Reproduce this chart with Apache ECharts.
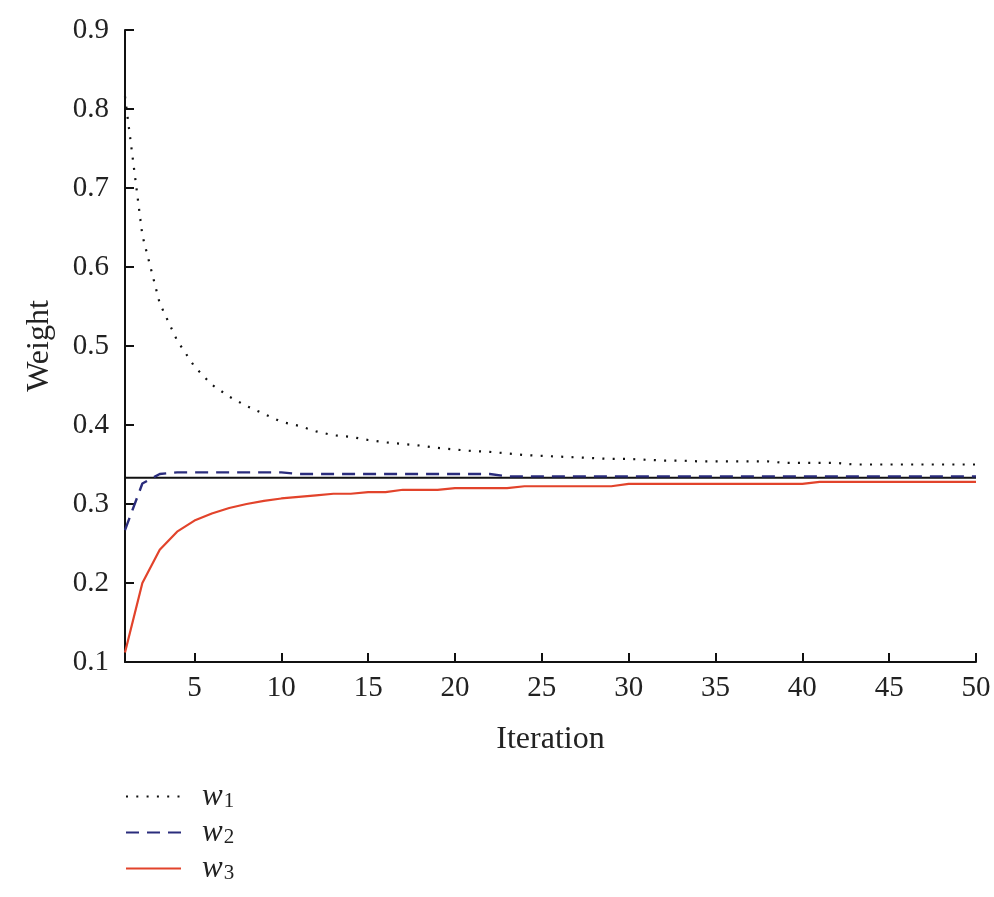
<!DOCTYPE html>
<html>
<head>
<meta charset="utf-8">
<script src="https://cdn.jsdelivr.net/npm/echarts@6/dist/echarts.min.js"></script>
<style>
  html, body { margin: 0; padding: 0; background: #fff; }
  #weightChart { width: 994px; height: 897px; }
</style>
</head>
<body>
<div id="weightChart"></div>
<script>
var iterations = [];
for (var i = 1; i <= 50; i++) iterations.push(i);

var w1 = [0.816, 0.640, 0.554, 0.507, 0.474, 0.451, 0.436, 0.424, 0.414, 0.404,
          0.399, 0.392, 0.387, 0.385, 0.381, 0.378, 0.376, 0.374, 0.371, 0.369,
          0.367, 0.366, 0.364, 0.362, 0.361, 0.360, 0.359, 0.358, 0.357, 0.357,
          0.356, 0.355, 0.355, 0.354, 0.354, 0.354, 0.354, 0.354, 0.352, 0.352,
          0.352, 0.352, 0.350, 0.350, 0.350, 0.350, 0.350, 0.350, 0.350, 0.350];

var w2 = [0.267, 0.326, 0.338, 0.340, 0.340, 0.340, 0.340, 0.340, 0.340, 0.340,
          0.338, 0.338, 0.338, 0.338, 0.338, 0.338, 0.338, 0.338, 0.338, 0.338,
          0.338, 0.338, 0.335, 0.335, 0.335, 0.335, 0.335, 0.335, 0.335, 0.335,
          0.335, 0.335, 0.335, 0.335, 0.335, 0.335, 0.335, 0.335, 0.335, 0.335,
          0.335, 0.335, 0.335, 0.335, 0.335, 0.335, 0.335, 0.335, 0.335, 0.335];

var w3 = [0.112, 0.200, 0.242, 0.265, 0.279, 0.288, 0.295, 0.300, 0.304, 0.307,
          0.309, 0.311, 0.313, 0.313, 0.315, 0.315, 0.318, 0.318, 0.318, 0.320,
          0.320, 0.320, 0.320, 0.3225, 0.3225, 0.3225, 0.3225, 0.3225, 0.3225, 0.3255,
          0.3255, 0.3255, 0.3255, 0.3255, 0.3255, 0.3255, 0.3255, 0.3255, 0.3255, 0.3255,
          0.328, 0.328, 0.328, 0.328, 0.328, 0.328, 0.328, 0.328, 0.328, 0.328];

// equal-weight reference line (1/3)
var refX = [1, 50];
var refY = [1 / 3, 1 / 3];

var xTicks = [5, 10, 15, 20, 25, 30, 35, 40, 45, 50];

function pairs(xs, ys) {
    return xs.map(function (x, k) { return [x, ys[k]]; });
}

var serif = 'Liberation Serif';
var myChart = echarts.init(document.getElementById('weightChart'));
var option = {
    animation: false,
    backgroundColor: '#fff',
    grid: { left: 125, right: 18, top: 30, bottom: 235 },
    legend: {
        orient: 'vertical',
        left: 125,
        top: 781,
        height: 112,
        padding: 0,
        itemWidth: 55,
        itemHeight: 14,
        itemGap: 5,
        data: ['w1', 'w2', 'w3'],
        itemStyle: { opacity: 0 },
        formatter: function (name) {
            return '{i|' + name.charAt(0) + '}{s|' + name.slice(1) + '}';
        },
        textStyle: {
            rich: {
                i: { fontFamily: serif, fontStyle: 'italic', fontSize: 31, color: '#222',
                     lineHeight: 24, padding: [0, 0, 0, 16] },
                s: { fontFamily: serif, fontSize: 21, color: '#222',
                     lineHeight: 14, padding: [10, 0, 0, 1] }
            }
        }
    },
    xAxis: {
        type: 'value',
        min: 1,
        max: 50,
        name: 'Iteration',
        nameLocation: 'middle',
        nameGap: 62,
        nameTextStyle: { fontFamily: serif, fontSize: 32, color: '#222' },
        axisLine: { lineStyle: { color: '#111', width: 2 } },
        axisTick: { inside: true, length: 9, customValues: xTicks,
                    lineStyle: { color: '#111', width: 2 } },
        axisLabel: { customValues: xTicks, fontFamily: serif, fontSize: 29,
                     color: '#222', margin: 12 },
        splitLine: { show: false }
    },
    yAxis: {
        type: 'value',
        min: 0.1,
        max: 0.9,
        interval: 0.1,
        name: 'Weight',
        nameLocation: 'middle',
        nameGap: 69,
        nameTextStyle: { fontFamily: serif, fontSize: 32, color: '#222' },
        axisLine: { show: true, lineStyle: { color: '#111', width: 2 } },
        axisTick: { show: true, inside: true, length: 9,
                    lineStyle: { color: '#111', width: 2 } },
        axisLabel: { fontFamily: serif, fontSize: 29, color: '#222', margin: 16,
                     formatter: function (v) { return v.toFixed(1); } },
        splitLine: { show: false }
    },
    series: [
        {
            name: 'ref',
            type: 'line',
            symbol: 'none',
            silent: true,
            data: pairs(refX, refY),
            lineStyle: { color: '#111', width: 2 }
        },
        {
            name: 'w1',
            type: 'line',
            symbol: 'none',
            data: pairs(iterations, w1),
            itemStyle: { color: '#111' },
            lineStyle: { color: '#111', width: 2.2, type: [2, 8.3], cap: 'butt' }
        },
        {
            name: 'w2',
            type: 'line',
            symbol: 'none',
            data: pairs(iterations, w2),
            itemStyle: { color: '#2a2c7c' },
            lineStyle: { color: '#2a2c7c', width: 2.4, type: [13, 8] }
        },
        {
            name: 'w3',
            type: 'line',
            symbol: 'none',
            data: pairs(iterations, w3),
            itemStyle: { color: '#e2432b' },
            lineStyle: { color: '#e2432b', width: 2.2 }
        }
    ]
};
myChart.setOption(option);
</script>
</body>
</html>
